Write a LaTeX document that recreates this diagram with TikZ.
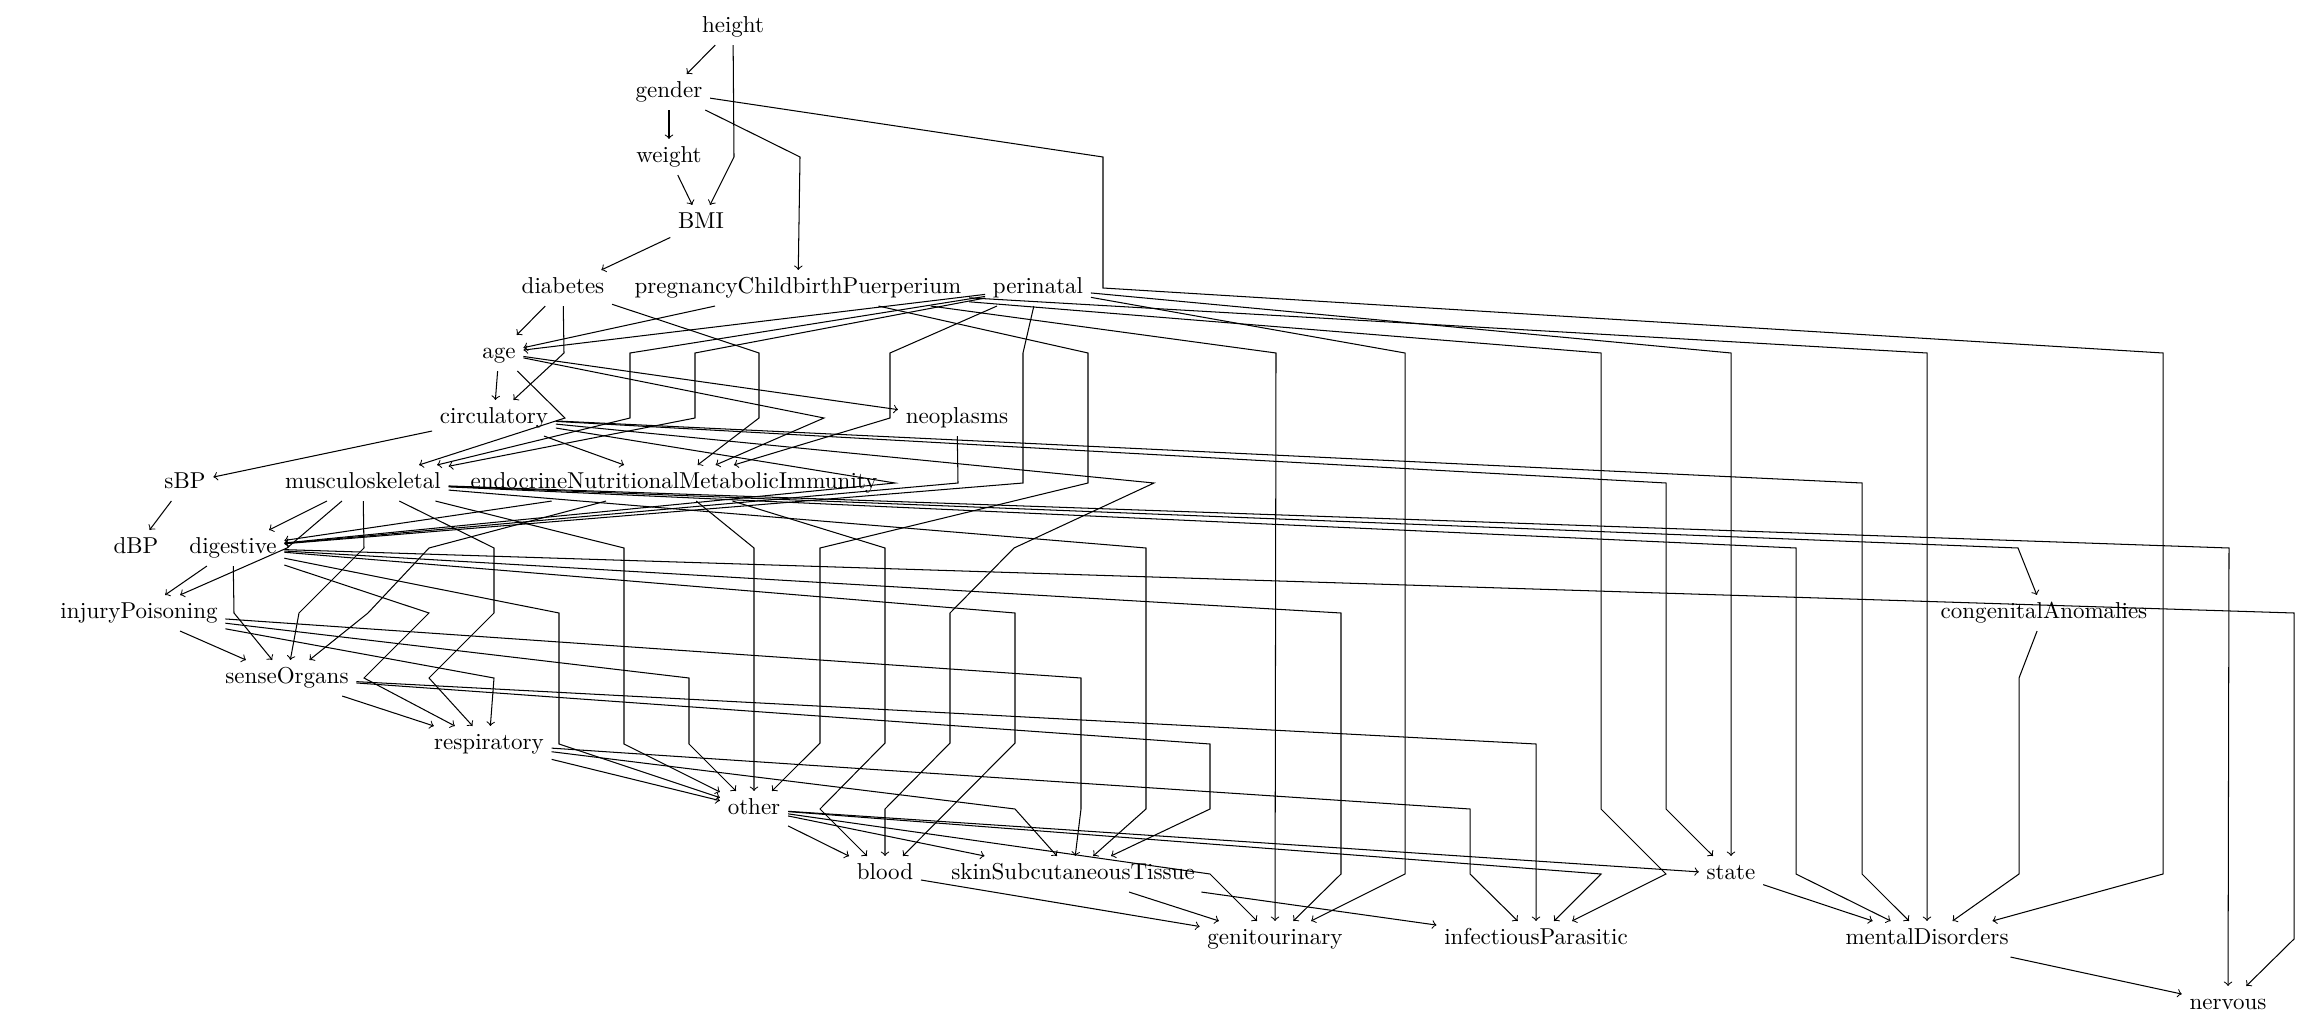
\documentclass[tikz,border=0pt]{standalone}
\begin{document}
\begin{tikzpicture}[x=0.4346pt,y=-0.4346pt,
  v/.style={inner sep=3.4pt, outer sep=0pt, text height=6.94pt, text depth=1.94pt, font=\fontsize{10}{12}\selectfont},
  e/.style={->, line width=0.45pt}]
\useasboundingbox (0,0) rectangle (2321,1011);
\node[v] (height) at (733,27) {height};
\node[v] (gender) at (669,92) {gender};
\node[v] (weight) at (669,157) {weight};
\node[v] (BMI) at (701,223) {BMI};
\node[v] (diabetes) at (563,288) {diabetes};
\node[v] (pCP) at (798,288) {pregnancyChildbirthPuerperium};
\node[v] (perinatal) at (1038,288) {perinatal};
\node[v] (age) at (499,353) {age};
\node[v] (circulatory) at (494,418) {circulatory};
\node[v] (neoplasms) at (957,418) {neoplasms};
\node[v] (sBP) at (185,483) {sBP};
\node[v] (musc) at (363,483) {musculoskeletal};
\node[v] (endo) at (674,483) {endocrineNutritionalMetabolicImmunity};
\node[v] (dBP) at (136,548) {dBP};
\node[v] (digestive) at (233,548) {digestive};
\node[v] (injury) at (139,613) {injuryPoisoning};
\node[v] (congenital) at (2044,613) {congenitalAnomalies};
\node[v] (sense) at (287,678) {senseOrgans};
\node[v] (resp) at (489,744) {respiratory};
\node[v] (other) at (754,809) {other};
\node[v] (blood) at (885,874) {blood};
\node[v] (skin) at (1073,874) {skinSubcutaneousTissue};
\node[v] (state) at (1731,874) {state};
\node[v] (genito) at (1275,939) {genitourinary};
\node[v] (infect) at (1536,939) {infectiousParasitic};
\node[v] (mental) at (1927,939) {mentalDisorders};
\node[v] (nervous) at (2228,1004) {nervous};

\draw[e] (height) -- (gender);
\draw[e] (height) -- (734,157) -- (BMI);
\draw[e] (gender) -- (weight);
\draw[e] (gender) -- (800,157) -- (pCP);
\draw[e] (gender) -- (1103,157) -- (1103,288) -- (2163,353) -- (2163,874) -- (mental);
\draw[e] (weight) -- (BMI);
\draw[e] (BMI) -- (diabetes);
\draw[e] (diabetes) -- (age);
\draw[e] (diabetes) -- (564,353) -- (circulatory);
\draw[e] (diabetes) -- (759,353) -- (759,418) -- (endo);
\draw[e] (pCP) -- (age);
\draw[e] (perinatal) -- (age);
\draw[e] (age) -- (circulatory);
\draw[e] (age) -- (565,418) -- (musc);
\draw[e] (age) -- (824,418) -- (endo);
\draw[e] (age) -- (neoplasms);
\draw[e] (perinatal) -- (695,353) -- (695,418) -- (musc);
\draw[e] (perinatal) -- (630,353) -- (630,418) -- (musc);
\draw[e] (perinatal) -- (890,353) -- (890,418) -- (endo);
\draw[e] (perinatal) -- (1023,353) -- (1023,483) -- (digestive);
\draw[e] (pCP) -- (1088,353) -- (1088,483) -- (820,548) -- (820,743) -- (other);
\draw[e] (pCP) -- (1276,353) -- (genito);
\draw[e] (perinatal) -- (1405,353) -- (1405,874) -- (genito);
\draw[e] (pCP) -- (1601,353) -- (1601,809) -- (1666,874) -- (infect);
\draw[e] (perinatal) -- (1731,353) -- (state);
\draw[e] (pCP) -- (1927,353) -- (mental);
\draw[e] (circulatory) -- (sBP);
\draw[e] (circulatory) -- (endo);
\draw[e] (circulatory) -- (895,483) -- (digestive);
\draw[e] (circulatory) -- (1154,483) -- (1014,548) -- (950,613) -- (950,743) -- (885,809) -- (blood);
\draw[e] (circulatory) -- (1666,483) -- (1666,809) -- (state);
\draw[e] (circulatory) -- (1862,483) -- (1862,874) -- (mental);
\draw[e] (neoplasms) -- (958,483) -- (digestive);
\draw[e] (sBP) -- (dBP);
\draw[e] (musc) -- (digestive);
\draw[e] (musc) -- (287,548) -- (injury);
\draw[e] (musc) -- (364,548) -- (299,613) -- (sense);
\draw[e] (musc) -- (494,548) -- (494,613) -- (429,678) -- (resp);
\draw[e] (musc) -- (624,548) -- (624,744) -- (other);
\draw[e] (musc) -- (1146,548) -- (1146,809) -- (skin);
\draw[e] (musc) -- (1796,548) -- (1796,874) -- (mental);
\draw[e] (musc) -- (2018,548) -- (congenital);
\draw[e] (musc) -- (2229,548) -- (nervous);
\draw[e] (endo) -- (digestive);
\draw[e] (endo) -- (429,548) -- (368,613) -- (sense);
\draw[e] (endo) -- (754,548) -- (other);
\draw[e] (endo) -- (885,548) -- (885,743) -- (820,809) -- (blood);
\draw[e] (digestive) -- (injury);
\draw[e] (digestive) -- (234,613) -- (sense);
\draw[e] (digestive) -- (429,613) -- (364,678) -- (resp);
\draw[e] (digestive) -- (559,613) -- (559,744) -- (other);
\draw[e] (digestive) -- (1015,613) -- (1015,743) -- (blood);
\draw[e] (digestive) -- (1341,613) -- (1341,874) -- (genito);
\draw[e] (digestive) -- (2294,613) -- (2294,939) -- (nervous);
\draw[e] (injury) -- (sense);
\draw[e] (injury) -- (494,678) -- (resp);
\draw[e] (injury) -- (689,678) -- (689,744) -- (other);
\draw[e] (injury) -- (1081,678) -- (1081,809) -- (skin);
\draw[e] (congenital) -- (2019,678) -- (2019,874) -- (mental);
\draw[e] (sense) -- (resp);
\draw[e] (sense) -- (1210,744) -- (1210,809) -- (skin);
\draw[e] (sense) -- (1536,744) -- (infect);
\draw[e] (resp) -- (other);
\draw[e] (resp) -- (1015,809) -- (skin);
\draw[e] (resp) -- (1470,809) -- (1470,874) -- (infect);
\draw[e] (other) -- (blood);
\draw[e] (other) -- (skin);
\draw[e] (other) -- (1210,874) -- (genito);
\draw[e] (other) -- (1601,874) -- (infect);
\draw[e] (other) -- (state);
\draw[e] (blood) -- (genito);
\draw[e] (skin) -- (genito);
\draw[e] (skin) -- (infect);
\draw[e] (state) -- (mental);
\draw[e] (mental) -- (nervous);
\end{tikzpicture}
\end{document}
